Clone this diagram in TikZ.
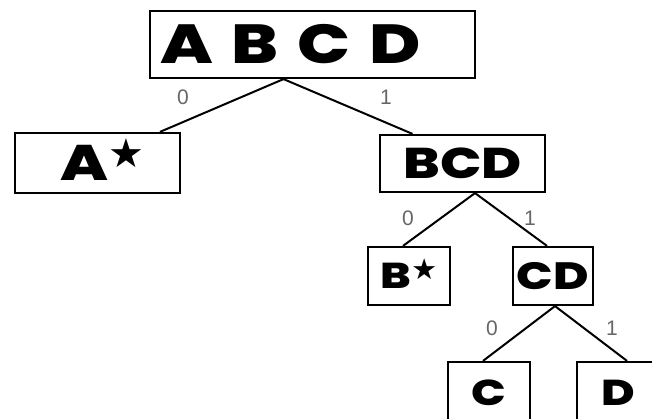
\documentclass[tikz,border=0pt]{standalone}
\usepackage{fontspec}
\setmainfont{Poppins}[BoldFont={Poppins ExtraBold}, BoldFeatures={FakeStretch=1.27}]
\newfontfamily\digitfont{Liberation Sans}
\newfontfamily\starfont{DejaVu Sans}

\newcommand{\keystar}{\smash{\raisebox{0.26em}{\starfont\fontsize{0.8em}{0.8em}\selectfont ★}}}

\tikzset{
  keybox/.style={draw, line width=2.2pt, inner sep=0pt, font=\bfseries\fontsize{#1}{#1}\selectfont},
  bitlabel/.style={font=\digitfont\fontsize{21}{21}\selectfont, text=black!60},
  branch/.style={line width=2pt},
}

\begin{document}
\begin{tikzpicture}[x=1pt, y=-1pt]
\useasboundingbox (0,0) rectangle (652,419);

% code tree
\node[keybox=55, minimum width=325pt, minimum height=67pt, text width=305pt, align=left] (ABCD) at (312.5,44.5) {A\hspace{19pt}B\hspace{19pt}C\hspace{19pt}D};
\node[keybox=50, minimum width=165pt, minimum height=60pt] (Astar) at (97.5,163) {\hspace{10pt}A\keystar};
\node[keybox=43, minimum width=165pt, minimum height=57pt] (BCD) at (462.5,163.5) {BCD};
\node[keybox=36, minimum width=82pt, minimum height=58pt] (Bstar) at (409,276) {B\keystar};
\node[keybox=38, minimum width=80pt, minimum height=58pt] (CD) at (553,276) {CD};
\node[keybox=36, minimum width=82pt, minimum height=62pt] (C) at (489,393) {C};
\node[keybox=36, minimum width=82pt, minimum height=62pt] (D) at (618,393) {D};

% branches
\draw[branch] ([xshift=-29pt]ABCD.south) -- ([xshift=62.5pt]Astar.north);
\draw[branch] ([xshift=-29pt]ABCD.south) -- ([xshift=-50pt]BCD.north);
\draw[branch] ([xshift=12.5pt]BCD.south) -- ([xshift=-6pt]Bstar.north);
\draw[branch] ([xshift=12.5pt]BCD.south) -- ([xshift=-6pt]CD.north);
\draw[branch] ([xshift=2pt]CD.south) -- ([xshift=-6pt]C.north);
\draw[branch] ([xshift=2pt]CD.south) -- ([xshift=9pt]D.north);

% bits
\node[bitlabel] (bitA) at (183,97) {0};
\node[bitlabel] (bitBCD) at (386,97) {1};
\node[bitlabel] (bitB) at (408,218) {0};
\node[bitlabel] (bitCD) at (530,218) {1};
\node[bitlabel] (bitC) at (492,328) {0};
\node[bitlabel] (bitD) at (612,328) {1};

\end{tikzpicture}
\end{document}
